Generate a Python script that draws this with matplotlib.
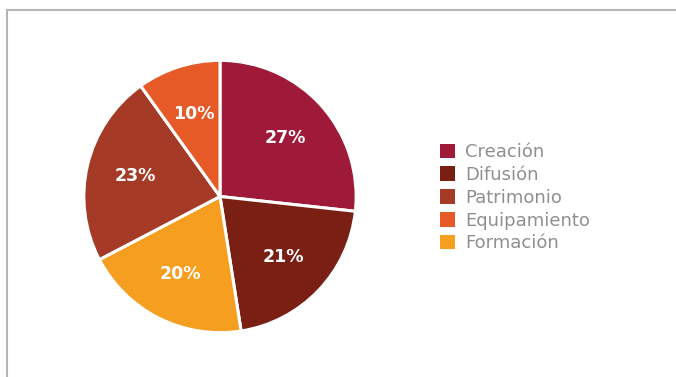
import matplotlib
matplotlib.use("Agg")
import matplotlib.pyplot as plt
from matplotlib.patches import Patch
from matplotlib.lines import Line2D
import numpy as np

categories = ["Creación", "Difusión", "Formación", "Patrimonio", "Equipamiento"]
values = [27, 21, 20, 23, 10]
colors = ["#9E1A38", "#7A1F14", "#F59E1F", "#A53B26", "#E65A27"]
legend_order = ["Creación", "Difusión", "Patrimonio", "Equipamiento", "Formación"]

W, H = 676, 377
fig = plt.figure(figsize=(W / 100, H / 100), dpi=100)
fig.patch.set_facecolor("white")

# frame lines (top and left)
fig.add_artist(Line2D([6.5 / W, 1.0], [1 - 9.5 / H, 1 - 9.5 / H], color="#b5b5b5", lw=1.5, transform=fig.transFigure))
fig.add_artist(Line2D([6.5 / W, 6.5 / W], [0, 1 - 9.5 / H], color="#b5b5b5", lw=1.5, transform=fig.transFigure))

cx, cy, r = 220, 196.5, 137.5
ax = fig.add_axes([(cx - r) / W, (H - cy - r) / H, 2 * r / W, 2 * r / H])
wedges, _ = ax.pie(values, colors=colors, startangle=90, counterclock=False, radius=1,
                   wedgeprops=dict(edgecolor="white", linewidth=2.2))
ax.set_xlim(-1.01, 1.01)
ax.set_ylim(-1.01, 1.01)
ax.set_aspect("equal")
ax.axis("off")

total = sum(values)
start = 90.0
for v in values:
    span = 360.0 * v / total
    mid = np.deg2rad(start - span / 2)
    d = 0.64
    ax.text(d * np.cos(mid), d * np.sin(mid), f"{v}%", ha="center", va="center",
            color="white", fontsize=12.5, fontweight="bold", family="DejaVu Sans")
    start -= span

handles = [Patch(facecolor=colors[categories.index(c)], edgecolor="none") for c in legend_order]
leg = fig.legend(handles, legend_order, loc="upper left", bbox_to_anchor=(440 / W, 1 - 143 / H),
                 frameon=False, prop=dict(family="DejaVu Sans", size=13), labelcolor="#8f8f8f",
                 handlelength=0.85, handleheight=0.85, handletextpad=0.55, labelspacing=0.27,
                 borderpad=0, borderaxespad=0)

fig.savefig("out.png", dpi=100, facecolor="white")
